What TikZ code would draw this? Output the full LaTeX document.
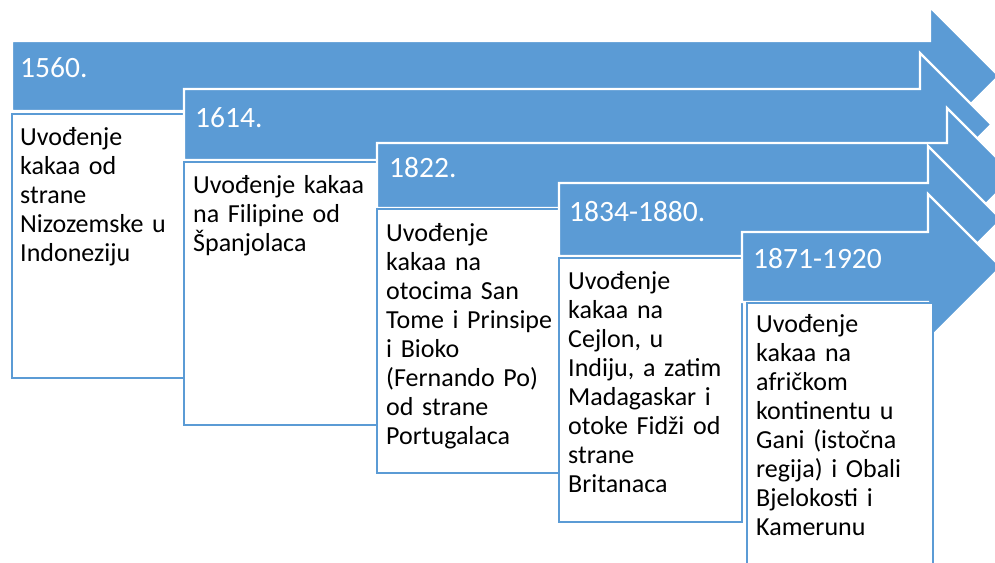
\documentclass[tikz,border=0pt]{standalone}
\usepackage{fontspec}
\setmainfont{Carlito}
\usetikzlibrary{positioning}
\definecolor{cblue}{RGB}{91,155,213}

\begin{document}
\begin{tikzpicture}[x=1pt,y=-1pt,
	arrowshape/.style={fill=cblue,draw=white,line width=2.2pt,line join=miter},
	textbox/.style={fill=white,draw=cblue,line width=2.5pt},
	yearlabel/.style={anchor=base west,inner sep=0pt,text=white,font=\fontsize{29.5}{34}\selectfont},
	bodytext/.style={anchor=base west,inner sep=0pt,text width=178pt,align=left,font=\fontsize{26}{29}\selectfont}]
	\clip (0,0) rectangle (995,562);
	\foreach \l/\t/\b/\x/\h/\bl/\bt/\br/\bb in {12/41/111/930/7/12/114/184/378,184/89/160/920/53/184/162/377/425,377/143/208/947/108/377/209/559/473,559/183/256/928/146/559/258/742/522,742/232/302/928/194/747/303/933/600} {
		\filldraw[arrowshape] (\l,\t) -- (\x,\t) -- (\x,\h) -- ({\x+(\t+\b)/2-\h},{(\t+\b)/2}) -- (\x,{\t+\b-\h}) -- (\x,\b) -- (\l,\b) -- cycle;
		\filldraw[textbox] (\bl,\bt) rectangle (\br,\bb);
	}

	\foreach \n/\x/\y/\yr in {a/20/77/1560.,b/195/127/1614.,c/389/177/1822.,d/569/221/1834-1880.,e/753/268/1871-1920} \node[yearlabel] (yr\n) at (\x,\y) {\yr};

	\node[bodytext] (txta) at (20,145) {Uvođenje\\kakaa od\\strane\\Nizozemske u\\Indoneziju};
	\node[bodytext] (txtb) at (193,193) {Uvođenje kakaa\\na Filipine od\\Španjolaca};
	\node[bodytext] (txtc) at (386,241) {Uvođenje\\kakaa na\\otocima San\\Tome i Prinsipe\\i Bioko\\(Fernando Po)\\od strane\\Portugalaca};
	\node[bodytext] (txtd) at (568,289) {Uvođenje\\kakaa na\\Cejlon, u\\Indiju, a zatim\\Madagaskar i\\otoke Fidži od\\strane\\Britanaca};
	\node[bodytext] (txte) at (756,332) {Uvođenje\\kakaa na\\afričkom\\kontinentu u\\Gani (istočna\\regija) i Obali\\Bjelokosti i\\Kamerunu};
\end{tikzpicture}
\end{document}
